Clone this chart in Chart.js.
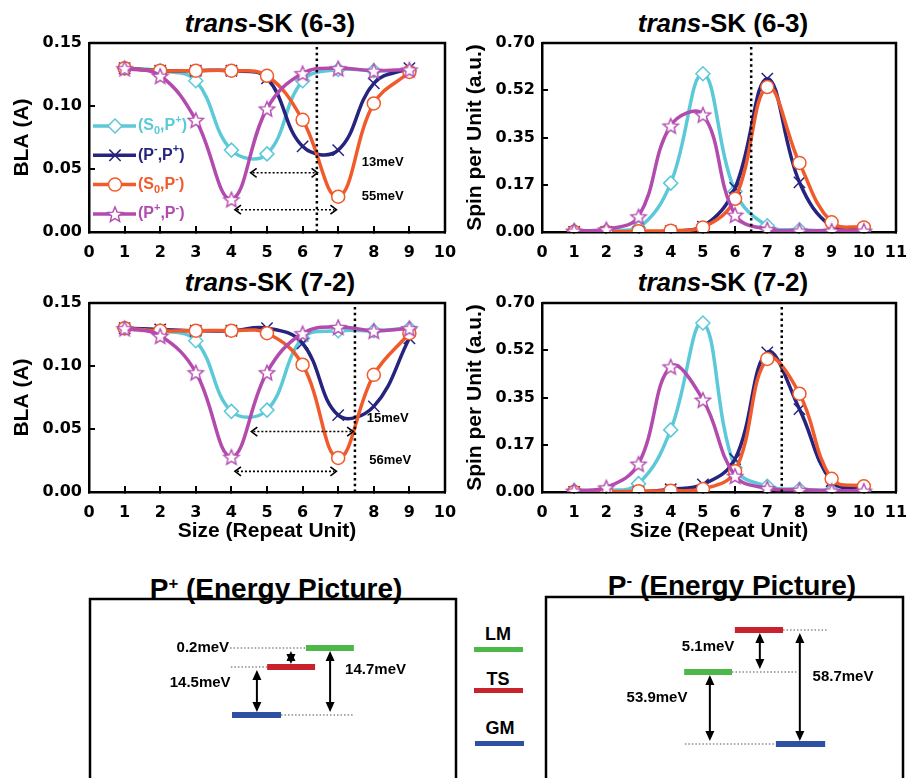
<!DOCTYPE html>
<html><head><meta charset="utf-8">
<script src="https://cdn.jsdelivr.net/npm/chart.js@4.4.0/dist/chart.umd.min.js"></script>
<style>
html,body{margin:0;padding:0;background:#fff;width:906px;height:778px;overflow:hidden;}
#wrap{position:relative;width:906px;height:778px;overflow:hidden;background:#fff;}
canvas{position:absolute;}
.t{position:absolute;font-family:"Liberation Sans",Arial,sans-serif;font-weight:bold;color:#000;text-align:center;white-space:nowrap;}
.sw{position:absolute;height:5px;width:49px;}
</style></head><body><div id="wrap">
<div class="t" style="left:120px;width:300px;top:8px;font-size:26px;line-height:30px"><i>trans</i>-SK (6-3)</div>
<div class="t" style="left:573px;width:300px;top:8px;font-size:26px;line-height:30px"><i>trans</i>-SK (6-3)</div>
<div class="t" style="left:120px;width:300px;top:267px;font-size:26px;line-height:30px"><i>trans</i>-SK (7-2)</div>
<div class="t" style="left:573px;width:300px;top:267px;font-size:26px;line-height:30px"><i>trans</i>-SK (7-2)</div>
<div class="t" style="left:126px;width:300px;top:568px;font-size:28px;line-height:32px">P<span style="font-size:0.6em;vertical-align:0.55em">+</span> (Energy Picture)</div>
<div class="t" style="left:582px;width:300px;top:565px;font-size:28px;line-height:32px">P<span style="font-size:0.6em;vertical-align:0.55em">-</span> (Energy Picture)</div>
<div class="t" style="left:473px;width:50px;top:624px;font-size:18px;line-height:20px">LM</div>
<div class="sw" style="left:474px;top:647px;background:#4DB848"></div>
<div class="t" style="left:473px;width:50px;top:669px;font-size:18px;line-height:20px">TS</div>
<div class="sw" style="left:474px;top:688px;background:#C8232C"></div>
<div class="t" style="left:475px;width:50px;top:718px;font-size:18px;line-height:20px">GM</div>
<div class="sw" style="left:475px;top:741px;background:#2E4FA2"></div>
<canvas id="c1" width="460" height="262" style="left:0;top:0"></canvas>
<canvas id="c2" width="453" height="262" style="left:453px;top:0"></canvas>
<canvas id="c3" width="460" height="290" style="left:0;top:260px"></canvas>
<canvas id="c4" width="453" height="290" style="left:453px;top:260px"></canvas>
<canvas id="e1" width="370" height="202" style="left:88px;top:597px"></canvas>
<canvas id="e2" width="361" height="202" style="left:544px;top:595px"></canvas>
</div>
<script>
// ---------------- data ----------------
const seriesNames = ['(S_0,P^+)', '(P^-,P^+)', '(S_0,P^-)', '(P^+,P^-)'];
const sizeBLA = [1, 2, 3, 4, 5, 6, 7, 8, 9];
const sizeSpin = [1, 2, 3, 4, 5, 6, 7, 8, 9, 10];

// BLA, trans-SK (6-3)
const bla63_S0Pp = [0.130, 0.128, 0.120, 0.065, 0.062, 0.120, 0.129, 0.128, 0.128];
const bla63_PmPp = [0.130, 0.128, 0.128, 0.128, 0.122, 0.068, 0.065, 0.118, 0.130];
const bla63_S0Pm = [0.130, 0.128, 0.128, 0.128, 0.124, 0.089, 0.028, 0.102, 0.127];
const bla63_PpPm = [0.130, 0.124, 0.089, 0.026, 0.098, 0.126, 0.130, 0.128, 0.129];
// BLA, trans-SK (7-2)
const bla72_S0Pp = [0.130, 0.128, 0.120, 0.064, 0.065, 0.122, 0.128, 0.128, 0.130];
const bla72_PmPp = [0.130, 0.129, 0.128, 0.128, 0.130, 0.118, 0.061, 0.068, 0.122];
const bla72_S0Pm = [0.130, 0.128, 0.128, 0.128, 0.126, 0.101, 0.027, 0.093, 0.126];
const bla72_PpPm = [0.130, 0.124, 0.095, 0.028, 0.095, 0.126, 0.131, 0.128, 0.130];
// Spin per unit, trans-SK (6-3)
const spin63_S0Pp = [0.005, 0.005, 0.015, 0.181, 0.586, 0.150, 0.023, 0.008, 0.005, 0.005];
const spin63_PmPp = [0.000, 0.000, 0.000, 0.003, 0.020, 0.163, 0.568, 0.184, 0.020, 0.010];
const spin63_S0Pm = [0.000, 0.000, 0.003, 0.005, 0.017, 0.123, 0.537, 0.256, 0.036, 0.017];
const spin63_PpPm = [0.005, 0.010, 0.058, 0.394, 0.435, 0.064, 0.010, 0.005, 0.005, 0.005];
// Spin per unit, trans-SK (7-2)
const spin72_S0Pp = [0.005, 0.005, 0.031, 0.230, 0.626, 0.090, 0.021, 0.010, 0.005, 0.005];
const spin72_PmPp = [0.000, 0.000, 0.000, 0.010, 0.028, 0.122, 0.517, 0.307, 0.040, 0.010];
const spin72_S0Pm = [0.000, 0.000, 0.003, 0.005, 0.011, 0.077, 0.493, 0.364, 0.049, 0.021];
const spin72_PpPm = [0.005, 0.017, 0.105, 0.465, 0.342, 0.060, 0.014, 0.008, 0.005, 0.005];

// tick values / labels
const blaXTicks = [0, 1, 2, 3, 4, 5, 6, 7, 8, 9, 10];
const spinXTicks = [0, 1, 2, 3, 4, 5, 6, 7, 8, 9, 10, 11];
const blaYTicks = [0, 0.05, 0.10, 0.15];
const blaYLabels = ['0.00', '0.05', '0.10', '0.15'];
const spinYTicks = [0, 0.175, 0.35, 0.525, 0.70];
const spinYLabels = ['0.00', '0.17', '0.35', '0.52', '0.70'];

// dotted transition-state markers (repeat-unit position)
const tsMark63BLA = 6.4, tsMark63Spin = 6.5, tsMark72BLA = 7.47, tsMark72Spin = 7.45;
// energy-difference arrows in BLA panels: [from x, to x, at BLA]
const bla63Arrows = [[4.54, 6.42, 0.047], [4.1, 6.95, 0.0177]];
const bla72Arrows = [[4.56, 7.42, 0.048], [4.1, 6.95, 0.0164]];
const bla63Notes = [['13meV', 7.66, 0.055], ['55meV', 7.66, 0.028]];
const bla72Notes = [['15meV', 7.8, 0.058], ['56meV', 7.87, 0.025]];

// energy pictures (schematic units 0-100)
const levelNames = ['LM', 'TS', 'GM'];
const pPlusLevelY = [75.5, 66, 42];
const pPlusLevelX = [[59.0, 72.1], [48.4, 61.5], [38.8, 52.2]];
const pPlusGuides = [[38.3, 59.0, 0], [38.5, 48.4, 1], [52.2, 71.9, 2]];
const pPlusArrows = [[45.6, 1, 2], [65.6, 0, 2], [54.9, 0, 1]];
const pPlusNotes = [['0.2meV', 38.0, 75.5, 'right'], ['14.5meV', 30.1, 58, 'center'], ['14.7meV', 69.7, 64.5, 'left']];
const pMinusLevelY = [62.5, 83.5, 26.5];
const pMinusLevelX = [[38.7, 52.1], [52.9, 66.4], [64.4, 78.2]];
const pMinusGuides = [[66.4, 79.0, 1], [52.1, 70.6, 0], [38.9, 64.4, 2]];
const pMinusArrows = [[59.9, 1, 0], [45.9, 0, 2], [71.1, 1, 2]];
const pMinusNotes = [['5.1meV', 45.4, 75, 'center'], ['53.9meV', 31.1, 49.5, 'center'], ['58.7meV', 83.2, 60, 'center']];

// ---------------- styles ----------------
const seriesColors = ['#5CC9D8', '#26247E', '#F15A2A', '#B34BAE'];
const levelColors = ['#4DB848', '#C8232C', '#2E4FA2'];
const FONT = 'Liberation Sans';
Chart.defaults.font.family = FONT;
Chart.defaults.color = '#000';

function makeStar(color, r) {
  const c = document.createElement('canvas');
  const s = Math.ceil(r * 2 + 4); c.width = s; c.height = s;
  const g = c.getContext('2d');
  g.beginPath();
  for (let k = 0; k < 10; k++) {
    const rr = k % 2 ? r * 0.45 : r;
    const a = -Math.PI / 2 + k * Math.PI / 5;
    g.lineTo(s / 2 + rr * Math.cos(a), s / 2 + 1 + rr * Math.sin(a));
  }
  g.closePath(); g.fillStyle = '#fff'; g.fill();
  g.lineWidth = 1.4; g.strokeStyle = color; g.stroke();
  return c;
}
const pointStyles = ['rectRot', 'crossRot', 'circle', makeStar(seriesColors[3], 8)];
const pointRadii = [7, 8, 6.5, 8];

function parseLabel(s) {
  const parts = []; let i = 0, buf = '';
  while (i < s.length) {
    if (s[i] === '_' || s[i] === '^') {
      if (buf) { parts.push([buf, '']); buf = ''; }
      parts.push([s[i + 1], s[i] === '_' ? 'sub' : 'sup']); i += 2;
    } else { buf += s[i]; i++; }
  }
  if (buf) parts.push([buf, '']);
  return parts;
}

function drawMarker(ctx, style, radius, x, y, color) {
  ctx.save();
  ctx.strokeStyle = color; ctx.fillStyle = '#fff'; ctx.lineWidth = 1.5;
  if (Chart.helpers && Chart.helpers.drawPoint) {
    Chart.helpers.drawPoint(ctx, {pointStyle: style, radius: radius, borderWidth: 1.5, rotation: 0}, x, y);
  } else {
    ctx.beginPath(); ctx.arc(x, y, radius, 0, Math.PI * 2); ctx.fill(); ctx.stroke();
  }
  ctx.restore();
}

const framePlugin = {
  id: 'frame',
  afterDatasetsDraw(chart) {
    const {ctx, chartArea: a} = chart;
    ctx.save(); ctx.strokeStyle = '#000'; ctx.lineWidth = 2.5;
    ctx.beginPath();
    ctx.moveTo(a.left, a.top); ctx.lineTo(a.right, a.top); ctx.lineTo(a.right, a.bottom);
    ctx.stroke(); ctx.restore();
  }
};

const inlineLegend = {
  id: 'inlineLegend',
  afterDatasetsDraw(chart, args, opts) {
    if (!opts || !opts.show) return;
    const {ctx, chartArea: a} = chart;
    seriesNames.forEach((name, i) => {
      const y = a.top + 83 + i * 29.3;
      const col = seriesColors[i];
      ctx.save();
      ctx.strokeStyle = col; ctx.lineWidth = 3.5;
      ctx.beginPath(); ctx.moveTo(a.left + 4, y); ctx.lineTo(a.left + 47, y); ctx.stroke();
      ctx.restore();
      drawMarker(ctx, pointStyles[i], pointRadii[i], a.left + 26, y, col);
      let x = a.left + 49;
      ctx.save(); ctx.fillStyle = col; ctx.textBaseline = 'middle'; ctx.textAlign = 'left';
      parseLabel(name).forEach(([txt, kind]) => {
        if (kind) {
          ctx.font = 'bold 11px ' + FONT;
          ctx.fillText(txt, x, y + (kind === 'sub' ? 5 : -6));
        } else {
          ctx.font = 'bold 16px ' + FONT;
          ctx.fillText(txt, x, y);
        }
        x += ctx.measureText(txt).width;
      });
      ctx.restore();
    });
  }
};

const blaNotes = {
  id: 'blaNotes',
  afterDatasetsDraw(chart, args, opts) {
    if (!opts || !opts.arrows) return;
    const {ctx, scales: {x, y}} = chart;
    ctx.save(); ctx.strokeStyle = '#000'; ctx.fillStyle = '#000';
    opts.arrows.forEach(([a, b, v]) => {
      const x1 = x.getPixelForValue(a), x2 = x.getPixelForValue(b), py = y.getPixelForValue(v);
      ctx.lineWidth = 1.6; ctx.setLineDash([2, 2]);
      ctx.beginPath(); ctx.moveTo(x1 + 2, py); ctx.lineTo(x2 - 2, py); ctx.stroke();
      ctx.setLineDash([]); ctx.lineWidth = 1.6;
      ctx.beginPath();
      ctx.moveTo(x1 + 6, py - 4.5); ctx.lineTo(x1, py); ctx.lineTo(x1 + 6, py + 4.5);
      ctx.moveTo(x2 - 6, py - 4.5); ctx.lineTo(x2, py); ctx.lineTo(x2 - 6, py + 4.5);
      ctx.stroke();
    });
    ctx.font = 'bold 13px ' + FONT; ctx.textBaseline = 'middle'; ctx.textAlign = 'left';
    opts.notes.forEach(([t, a, v]) => ctx.fillText(t, x.getPixelForValue(a), y.getPixelForValue(v)));
    ctx.restore();
  }
};

function seriesDatasets(xs, arrays, mark, ymax) {
  const ds = [{
    label: 'TS position', data: [{x: mark, y: 0}, {x: mark, y: ymax}],
    borderColor: '#000', borderWidth: 2.5, borderDash: [2.5, 3.2], pointRadius: 0, tension: 0, order: 0
  }];
  const ord = [4, 3, 2, 1];
  arrays.forEach((arr, i) => {
    ds.push({
      label: seriesNames[i], data: xs.map((xv, j) => ({x: xv, y: arr[j]})),
      borderColor: seriesColors[i], backgroundColor: '#fff', borderWidth: 3.5, tension: 0.4,
      pointStyle: pointStyles[i], pointRadius: pointRadii[i], pointBorderWidth: 1.5,
      pointBorderColor: seriesColors[i], pointBackgroundColor: '#fff', order: ord[i]
    });
  });
  return ds;
}

function panel(id, cfg) {
  const cv = document.getElementById(id);
  const W = cv.width, H = cv.height;
  const tickFont = {family: 'DejaVu Sans', weight: 'bold', size: 16};
  return new Chart(cv, {
    type: 'line',
    data: {datasets: seriesDatasets(cfg.xs, cfg.arrays, cfg.mark, cfg.ymax)},
    plugins: [framePlugin, inlineLegend, blaNotes],
    options: {
      responsive: false, animation: false, devicePixelRatio: 1, events: [],
      layout: {padding: {left: 0, top: 43, right: W - cfg.right, bottom: 0}},
      plugins: {
        legend: {display: false}, tooltip: {enabled: false},
        inlineLegend: {show: !!cfg.legend},
        blaNotes: cfg.notes ? {arrows: cfg.arrows, notes: cfg.notes} : {}
      },
      scales: {
        x: {
          type: 'linear', min: 0, max: cfg.xTicks[cfg.xTicks.length - 1], position: 'bottom',
          afterBuildTicks: s => { s.ticks = cfg.xTicks.map(v => ({value: v})); },
          afterFit: s => { s.height = H - 232; s.paddingLeft = 0; s.paddingRight = 0; },
          grid: {display: true, drawOnChartArea: false, drawTicks: true, tickLength: -6, color: '#000', lineWidth: 2},
          border: {display: true, color: '#000', width: 2.5},
          ticks: {color: '#000', font: tickFont, padding: 17, maxRotation: 0, autoSkip: false, callback: v => String(v)},
          title: {display: !!cfg.xTitle, text: 'Size (Repeat Unit)', color: '#000',
                  font: {family: FONT, weight: 'bold', size: 21}, padding: {top: 0, bottom: 6}}
        },
        y: {
          type: 'linear', min: 0, max: cfg.ymax, position: 'left',
          afterBuildTicks: s => { s.ticks = cfg.yTicks.map(v => ({value: v})); },
          afterFit: s => { s.width = 89; s.paddingTop = 0; s.paddingBottom = 0; },
          grid: {display: true, drawOnChartArea: false, drawTicks: true, tickLength: -6, color: '#000', lineWidth: 2},
          border: {display: true, color: '#000', width: 2.5},
          ticks: {color: '#000', font: tickFont, padding: 13,
                  callback: v => { const k = cfg.yTicks.findIndex(t => Math.abs(t - v) < 1e-6); return k >= 0 ? cfg.yLabels[k] : ''; }},
          title: {display: true, text: cfg.yTitle, color: '#000',
                  font: {family: FONT, weight: 'bold', size: 21}, padding: {top: 10, bottom: 0}}
        }
      }
    }
  });
}

panel('c1', {xs: sizeBLA, arrays: [bla63_S0Pp, bla63_PmPp, bla63_S0Pm, bla63_PpPm], mark: tsMark63BLA,
  ymax: 0.15, right: 445, xTicks: blaXTicks, yTicks: blaYTicks, yLabels: blaYLabels, yTitle: 'BLA (A)',
  legend: true, arrows: bla63Arrows, notes: bla63Notes});
panel('c2', {xs: sizeSpin, arrays: [spin63_S0Pp, spin63_PmPp, spin63_S0Pm, spin63_PpPm], mark: tsMark63Spin,
  ymax: 0.70, right: 443, xTicks: spinXTicks, yTicks: spinYTicks, yLabels: spinYLabels, yTitle: 'Spin per Unit (a.u.)'});
panel('c3', {xs: sizeBLA, arrays: [bla72_S0Pp, bla72_PmPp, bla72_S0Pm, bla72_PpPm], mark: tsMark72BLA,
  ymax: 0.15, right: 445, xTicks: blaXTicks, yTicks: blaYTicks, yLabels: blaYLabels, yTitle: 'BLA (A)',
  xTitle: true, arrows: bla72Arrows, notes: bla72Notes});
panel('c4', {xs: sizeSpin, arrays: [spin72_S0Pp, spin72_PmPp, spin72_S0Pm, spin72_PpPm], mark: tsMark72Spin,
  ymax: 0.70, right: 443, xTicks: spinXTicks, yTicks: spinYTicks, yLabels: spinYLabels, yTitle: 'Spin per Unit (a.u.)',
  xTitle: true});

// ---------------- energy pictures ----------------
const energyDecor = {
  id: 'energyDecor',
  afterDatasetsDraw(chart, args, o) {
    const {ctx, chartArea: a, scales: {x, y}} = chart;
    ctx.save();
    ctx.strokeStyle = '#000'; ctx.lineWidth = 2.5;
    ctx.strokeRect(a.left, a.top, a.right - a.left, a.bottom - a.top);
    ctx.fillStyle = '#000'; ctx.lineWidth = 2;
    o.arrows.forEach(([xv, i1, i2]) => {
      const px = x.getPixelForValue(xv);
      let y1 = y.getPixelForValue(o.levels[i1]), y2 = y.getPixelForValue(o.levels[i2]);
      const dir = y2 > y1 ? 1 : -1;
      y1 += dir * 3; y2 -= dir * 3;
      const hl = 10, hw = 4.5;
      ctx.beginPath(); ctx.moveTo(px, y1 + dir * hl); ctx.lineTo(px, y2 - dir * hl); ctx.stroke();
      ctx.beginPath(); ctx.moveTo(px, y1); ctx.lineTo(px - hw, y1 + dir * hl); ctx.lineTo(px + hw, y1 + dir * hl); ctx.closePath(); ctx.fill();
      ctx.beginPath(); ctx.moveTo(px, y2); ctx.lineTo(px - hw, y2 - dir * hl); ctx.lineTo(px + hw, y2 - dir * hl); ctx.closePath(); ctx.fill();
    });
    ctx.font = 'bold 15px ' + FONT; ctx.textBaseline = 'middle';
    o.notes.forEach(([t, xv, yv, al]) => { ctx.textAlign = al; ctx.fillText(t, x.getPixelForValue(xv), y.getPixelForValue(yv)); });
    ctx.restore();
  }
};

function energyPanel(id, levelY, levelX, guides, arrows, notes) {
  const datasets = [];
  guides.forEach(([x1, x2, li]) => datasets.push({
    label: 'guide ' + levelNames[li], data: [{x: x1, y: levelY[li]}, {x: x2, y: levelY[li]}],
    borderColor: '#8a8a8a', borderWidth: 1.3, borderDash: [1.5, 2], pointRadius: 0, tension: 0, order: 2
  }));
  levelNames.forEach((n, i) => datasets.push({
    label: n, data: [{x: levelX[i][0], y: levelY[i]}, {x: levelX[i][1], y: levelY[i]}],
    borderColor: levelColors[i], borderWidth: 6, borderCapStyle: 'butt', pointRadius: 0, tension: 0, order: 1
  }));
  return new Chart(document.getElementById(id), {
    type: 'line', data: {datasets},
    plugins: [energyDecor],
    options: {
      responsive: false, animation: false, devicePixelRatio: 1, events: [],
      layout: {padding: {left: 2, top: 2, right: 2, bottom: 0}},
      plugins: {legend: {display: false}, tooltip: {enabled: false},
        energyDecor: {levels: levelY, arrows, notes}},
      scales: {
        x: {type: 'linear', min: 0, max: 100, display: false},
        y: {type: 'linear', min: 0, max: 100, display: false}
      }
    }
  });
}
energyPanel('e1', pPlusLevelY, pPlusLevelX, pPlusGuides, pPlusArrows, pPlusNotes);
energyPanel('e2', pMinusLevelY, pMinusLevelX, pMinusGuides, pMinusArrows, pMinusNotes);
</script></body></html>
